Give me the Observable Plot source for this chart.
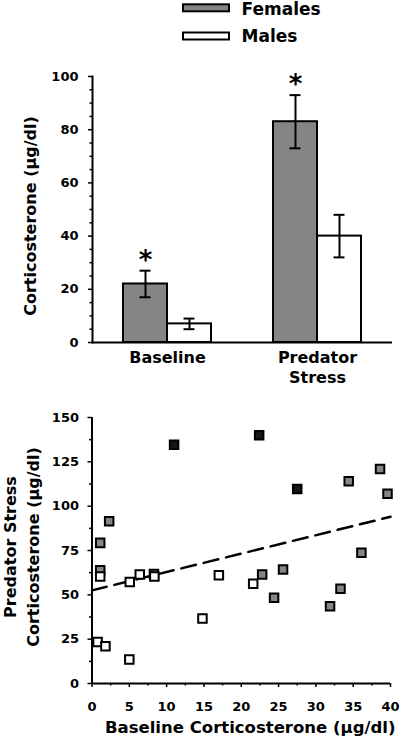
<!DOCTYPE html>
<html><head><meta charset="utf-8">
<script src="https://cdn.jsdelivr.net/npm/d3@7"></script>
<script src="https://cdn.jsdelivr.net/npm/@observablehq/plot@0.6"></script>
<style>
body{margin:0;background:#fff;}
#wrap{position:relative;width:400px;height:744px;overflow:hidden;background:#fff;}
#wrap > svg, #wrap > figure{position:absolute;left:0;margin:0;}
</style></head><body><div id="wrap"></div>
<script>
// ---- Top chart data ----
const conditions = ["Baseline", "Predator Stress"];
const sexes = ["Females", "Males"];
const femaleMeans = [22, 83];
const femaleLow = [17, 73];
const femaleHigh = [27, 93];
const maleMeans = [7, 40];
const maleLow = [5, 32];
const maleHigh = [9, 48];
const significant = [true, true];
const barMajorTicks = [0, 20, 40, 60, 80, 100];
const barMinorTicks = [5, 10, 15, 25, 30, 35, 45, 50, 55, 65, 70, 75, 85, 90, 95];

// ---- Bottom chart data (drawing order) ----
const scatterX = [1.1, 8.3, 1.1, 2.3, 0.75, 1.8, 5.0, 5.06, 6.4, 8.36, 17.0, 14.8, 21.6,
  22.8, 24.4, 25.6, 31.9, 33.3, 34.4, 36.1, 38.6, 39.6, 11.0, 22.4, 27.5, 1.1];
const scatterY = [63.8, 61.8, 79.3, 91.5, 23.4, 21.0, 13.5, 57.2, 61.5, 60.4, 61.0, 36.6, 56.3,
  61.5, 48.4, 64.3, 43.5, 53.4, 114, 73.7, 121, 107, 134.6, 140, 109.7, 60.4];
const scatterGroup = ["Females", "Females", "Females", "Females", "Males", "Males", "Males", "Males", "Males", "Males", "Males", "Males", "Males",
  "Females", "Females", "Females", "Females", "Females", "Females", "Females", "Females", "Females", "Females (dark)", "Females (dark)", "Females (dark)", "Males"];
const fitX = [0, 40];
const fitY = [52.5, 94];
const scatterXMajor = [0, 5, 10, 15, 20, 25, 30, 35, 40];
const scatterXMinor = [2.5, 7.5, 12.5, 17.5, 22.5, 27.5, 32.5, 37.5];
const scatterYMajor = [0, 25, 50, 75, 100, 125, 150];
const scatterYMinor = [12.5, 37.5, 62.5, 87.5, 112.5, 137.5];

const barTitle = "Corticosterone (µg/dl)";
const scatterXTitle = "Baseline Corticosterone (µg/dl)";
const scatterYTitle = "Predator Stress\nCorticosterone (µg/dl)";

const colors = {"Females": "#858585", "Males": "#ffffff", "Females (dark)": "#161616"};
const FONT = "DejaVu Sans";
const wrap = document.getElementById("wrap");

// ---- Legend ----
const legend = d3.create("svg").attr("width", 400).attr("height", 50)
  .style("top", "0px").style("font-family", FONT).style("font-weight", "bold");
sexes.forEach((s, i) => {
  legend.append("rect").attr("x", 183).attr("y", 4.3 + i * 28.2).attr("width", 46).attr("height", 7)
    .attr("fill", colors[s]).attr("stroke", "black").attr("stroke-width", 2);
  legend.append("text").attr("x", 241.5).attr("y", 15.2 + i * 26.6).attr("font-size", 17).text(s);
});
wrap.append(legend.node());

// ---- Bar chart ----
const rows = [];
conditions.forEach((c, i) => {
  rows.push({condition: c, sex: "Females", value: femaleMeans[i], lo: femaleLow[i], hi: femaleHigh[i], sig: significant[i]});
  rows.push({condition: c, sex: "Males", value: maleMeans[i], lo: maleLow[i], hi: maleHigh[i], sig: false});
});

const bar = Plot.plot({
  width: 400, height: 334,
  marginLeft: 92, marginRight: 8, marginTop: 20, marginBottom: 48,
  style: {fontFamily: FONT, fontWeight: "bold", background: "white", color: "black"},
  fx: {domain: conditions, paddingInner: 0, paddingOuter: 0, axis: null, label: null},
  x: {domain: sexes, paddingInner: 0, paddingOuter: 0.676, axis: null},
  y: {domain: [0, 100], axis: null},
  marks: [
    Plot.barY(rows, {fx: "condition", x: "sex", y: "value", fill: d => colors[d.sex], stroke: "black", strokeWidth: 2}),
    Plot.ruleX(rows, {fx: "condition", x: "sex", y1: "lo", y2: "hi", stroke: "black", strokeWidth: 2}),
    Plot.tickY(rows, {fx: "condition", x: "sex", y: "hi", stroke: "black", strokeWidth: 2, insetLeft: 16.5, insetRight: 16.5}),
    Plot.tickY(rows, {fx: "condition", x: "sex", y: "lo", stroke: "black", strokeWidth: 2, insetLeft: 16.5, insetRight: 16.5}),
    Plot.text(rows.filter(d => d.sig), {fx: "condition", x: "sex", y: "hi", text: () => "*", fontSize: 26, dy: -10}),
    Plot.ruleY([0], {stroke: "black", strokeWidth: 2}),
    Plot.frame({anchor: "left", facetAnchor: "left", stroke: "black", strokeWidth: 2}),
    Plot.axisY({ticks: barMajorTicks, tickSize: 4, tickPadding: 10, fontSize: 13, strokeWidth: 1.5, label: null}),
    Plot.axisY({ticks: barMinorTicks, tickSize: 2.5, tickFormat: () => "", strokeWidth: 1.5, label: null}),
    Plot.axisFx({anchor: "bottom", tickSize: 0, tickPadding: 6.5, fontSize: 16, lineHeight: 1.25,
      tickFormat: d => d.replace(" ", "\n"), label: null}),
    Plot.text([barTitle], {frameAnchor: "left", facetAnchor: "left", textAnchor: "middle", rotate: -90, dx: -62, dy: 6.5, fontSize: 16})
  ]
});
bar.style.top = "56px";
wrap.append(bar);

// ---- Scatter ----
const pts = scatterX.map((x, i) => ({x, y: scatterY[i], g: scatterGroup[i]}));
const fit = fitX.map((x, i) => ({x, y: fitY[i]}));

const scatter = Plot.plot({
  width: 400, height: 350,
  marginLeft: 91.5, marginRight: 10, marginTop: 23, marginBottom: 61,
  style: {fontFamily: FONT, fontWeight: "bold", background: "white", color: "black"},
  x: {domain: [0, 40], axis: null},
  y: {domain: [0, 150], axis: null},
  marks: [
    Plot.axisX({ticks: scatterXMajor, tickSize: 4, tickPadding: 14.5, fontSize: 13, strokeWidth: 1.5, label: null}),
    Plot.axisX({ticks: scatterXMinor, tickSize: 2.5, tickFormat: () => "", strokeWidth: 1.5, label: null}),
    Plot.axisY({ticks: scatterYMajor, tickSize: 4, tickPadding: 9, fontSize: 13, strokeWidth: 1.5, label: null}),
    Plot.axisY({ticks: scatterYMinor, tickSize: 2.5, tickFormat: () => "", strokeWidth: 1.5, label: null}),
    Plot.ruleX([0], {stroke: "black", strokeWidth: 2}),
    Plot.ruleY([0], {stroke: "black", strokeWidth: 2}),
    Plot.line(fit, {x: "x", y: "y", stroke: "black", strokeWidth: 2.5, strokeDasharray: "15,8"}),
    Plot.dot(pts, {x: "x", y: "y", symbol: "square", r: 4.8, fill: d => colors[d.g], stroke: "black", strokeWidth: 2}),
    Plot.text([scatterXTitle], {frameAnchor: "bottom", textAnchor: "middle", dx: 9, dy: 49.5, fontSize: 16.5}),
    Plot.text([scatterYTitle], {frameAnchor: "left", textAnchor: "middle", rotate: -90, dx: -72, dy: -3.5, fontSize: 16, lineHeight: 1.44})
  ]
});
scatter.style.top = "394px";
wrap.append(scatter);
</script>
</body></html>
